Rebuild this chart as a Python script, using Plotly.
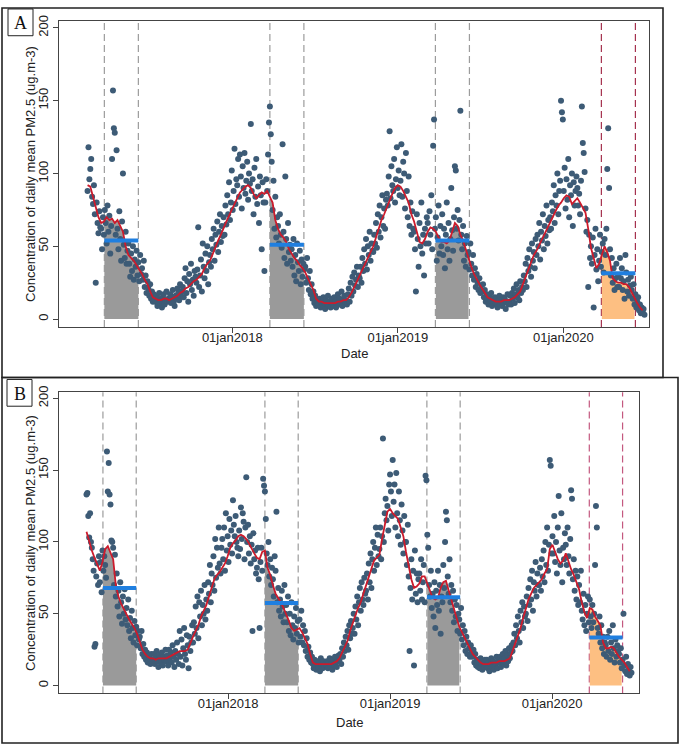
import pandas as pd
import plotly.graph_objects as go

# ---------------- data ----------------
start_date = "2017-02-16"      # first observation
point_step = "2D"              # one scatter value every second day (15 values per row ~ 30 days)
line_step = "6D"               # smoothed (red) line: one value every 6 days (5 values per row)

period_start = ["2017-03-25", "2018-03-25", "2019-03-25", "2020-03-25"]
period_end = ["2017-06-08", "2018-06-08", "2019-06-08", "2020-06-08"]
year_ticks = ["2018-01-01", "2019-01-01", "2020-01-01"]
year_tick_labels = ["01jan2018", "01jan2019", "01jan2020"]
y_ticks = [0, 50, 100, 150, 200]
panel_labels = ["A", "B"]
y_title = "Concentration of daily mean PM2.5 (ug.m-3)"
x_title = "Date"

# Panel A: daily PM2.5 (every 2nd day)
pm_a_2017 = [
    88, 118, 96, 103, 110, 84, 79, 92, 72, 25, 80, 66, 59, 74, 63,
    62, 48, 70, 58, 75, 66, 52, 78, 60, 71, 45, 64, 110, 157, 131,
    128, 58, 116, 62, 48, 74, 55, 40, 67, 100, 51, 42, 60, 38, 47,
    52, 38, 29, 45, 33, 50, 27, 41, 36, 47, 30, 39, 26, 44, 31,
    35, 27, 40, 22, 30, 18, 26, 21, 16, 24, 14, 19, 12, 17, 13,
    12, 16, 9, 14, 18, 11, 13, 8, 15, 17, 10, 13, 19, 12, 14,
    13, 17, 11, 15, 20, 12, 9, 16, 14, 21, 18, 13, 24, 16, 19,
    22, 15, 28, 35, 18, 26, 12, 31, 24, 38, 20, 27, 16, 33, 29,
    25, 34, 63, 22, 30, 41, 19, 52, 36, 28, 45, 33, 50, 24, 39,
    44, 36, 55, 48, 62, 40, 58, 51, 67, 46, 60, 72, 53, 64, 57,
    70, 58, 78, 65, 85, 72, 94, 68, 80, 102, 75, 88, 117, 79, 96,
]
pm_a_2018 = [
    92, 110, 84, 113, 98, 76, 105, 90, 114, 86, 95, 108, 82, 100, 93,
    134, 88, 96, 72, 104, 84, 110, 79, 91, 66, 98, 85, 48, 94, 80,
    33, 80, 96, 88, 113, 135, 146, 127, 108, 75, 95, 62, 84, 56, 70,
    64, 52, 72, 58, 49, 120, 60, 42, 98, 55, 38, 66, 46, 51, 40,
    48, 36, 55, 30, 44, 26, 52, 39, 33, 47, 24, 41, 29, 38, 34,
    36, 25, 42, 28, 20, 33, 17, 24, 14, 19, 11, 16, 9, 13, 10,
    10, 14, 8, 12, 9, 15, 11, 7, 13, 10, 16, 9, 12, 8, 14,
    11, 9, 15, 12, 8, 13, 17, 10, 14, 11, 19, 9, 13, 16, 12,
    13, 10, 17, 21, 12, 25, 16, 29, 19, 32, 23, 27, 36, 22, 30,
    28, 36, 25, 42, 33, 48, 38, 55, 34, 50, 44, 60, 40, 52, 47,
    46, 58, 52, 66, 49, 72, 60, 78, 56, 70, 85, 64, 76, 62, 82,
    86, 78, 98, 129, 83, 105, 92, 88, 110, 80, 96, 118, 90, 102, 85,
]
pm_a_2019 = [
    95, 120, 84, 108, 100, 76, 114, 88, 70, 98, 64, 80, 58, 74, 62,
    60, 48, 19, 72, 55, 36, 66, 50, 80, 45, 58, 30, 62, 52, 70,
    66, 52, 74, 58, 85, 48, 119, 137, 62, 70, 40, 56, 78, 45, 64,
    50, 72, 44, 62, 35, 58, 80, 48, 66, 40, 55, 90, 61, 47, 70,
    105, 102, 62, 75, 54, 68, 143, 58, 48, 64, 40, 52, 36, 57, 44,
    46, 34, 52, 38, 30, 44, 27, 35, 22, 31, 25, 20, 28, 18, 23,
    19, 24, 15, 20, 12, 17, 14, 10, 16, 13, 18, 9, 14, 11, 15,
    11, 14, 8, 13, 16, 10, 12, 9, 15, 11, 14, 7, 12, 17, 10,
    12, 16, 10, 18, 14, 21, 11, 17, 24, 15, 20, 13, 26, 18, 22,
    20, 30, 26, 38, 22, 42, 33, 48, 36, 29, 52, 40, 46, 35, 55,
    44, 58, 50, 66, 41, 60, 54, 72, 48, 64, 57, 78, 52, 68, 61,
    70, 62, 80, 74, 92, 66, 85, 78, 100, 72, 88, 95, 150, 142, 137,
]
pm_a_2020 = [
    88, 104, 76, 96, 82, 110, 70, 92, 85, 100, 64, 94, 78, 88, 98,
    90, 78, 86, 72, 95, 146, 121, 114, 101, 76, 60, 68, 22, 58, 42,
    50, 38, 56, 8, 44, 62, 34, 48, 26, 40, 58, 36, 46, 52, 32,
    55, 44, 62, 103, 131, 90, 48, 30, 42, 25, 35, 20, 28, 38, 22,
    30, 22, 42, 28, 35, 20, 26, 14, 44, 32, 19, 27, 16, 23, 29,
    20, 14, 24, 10, 17, 8, 12, 15, 6, 10, 4, 8, 5, 7, 3,
]

# Panel A: smoothed red line (every 6 days)
red_a_2017 = [
    92, 91, 84, 76, 70, 66, 67, 70, 68, 69, 66, 68, 64, 60, 50,
    44, 42, 40, 37, 34, 31, 27, 24, 19, 15, 14, 13, 13, 14, 14,
    13, 14, 15, 16, 18, 19, 21, 22, 24, 26, 27, 29, 31, 35, 38,
    40, 45, 50, 54, 58, 63, 67, 71, 75, 79,
]
red_a_2018 = [
    83, 87, 89, 91, 92, 90, 86, 83, 85, 87, 86, 88, 84, 80, 68,
    62, 58, 56, 53, 48, 45, 42, 40, 37, 35, 32, 28, 24, 20, 14,
    12, 12, 11, 11, 11, 11, 11, 12, 12, 13, 13, 15, 18, 22, 26,
    30, 33, 37, 41, 45, 50, 56, 62, 68, 72, 77, 82, 86, 90, 92,
]
red_a_2019 = [
    91, 88, 84, 80, 72, 67, 60, 53, 52, 55, 60, 63, 62, 60, 56,
    53, 53, 52, 54, 60, 66, 64, 58, 54, 48, 41, 36, 31, 27, 24,
    21, 18, 15, 14, 13, 12, 12, 12, 13, 13, 13, 14, 15, 17, 19,
    24, 29, 35, 40, 44, 47, 51, 55, 59, 62, 67, 71, 75, 78, 80,
]
red_a_2020 = [
    83, 85, 84, 79, 81, 83, 80, 76, 73, 62, 49, 42, 35, 38, 44,
    50, 46, 40, 28, 26, 25, 25, 24, 24, 22, 18, 15, 11, 8, 6,
]

# Panel B: daily PM2.5 (every 2nd day)
pm_b_2017 = [
    133, 134, 118, 103, 120, 100, 96, 88, 80, 27, 29, 76, 85, 70, 90,
    72, 86, 65, 94, 80, 90, 84, 75, 163, 135, 155, 133, 126, 101, 100,
    96, 70, 91, 62, 78, 55, 66, 48, 72, 58, 43, 62, 50, 67, 46,
    54, 42, 60, 38, 47, 33, 52, 40, 30, 45, 35, 41, 28, 38, 32,
    34, 26, 38, 22, 29, 20, 25, 18, 23, 16, 21, 19, 15, 22, 17,
    18, 22, 15, 20, 24, 17, 13, 21, 19, 16, 23, 14, 20, 18, 25,
    17, 21, 14, 25, 19, 23, 16, 28, 20, 13, 24, 18, 30, 22, 15,
    38, 20, 32, 14, 26, 40, 22, 18, 35, 28, 12, 34, 24, 30, 42,
    30, 44, 36, 55, 40, 62, 33, 58, 48, 66, 42, 56, 50, 70, 46,
    60, 52, 72, 64, 84, 58, 78, 70, 90, 66, 102, 75, 96, 82, 110,
    85, 78, 96, 102, 88, 110, 80, 120, 94, 104, 86, 116, 98, 108, 92,
]
pm_b_2018 = [
    129, 112, 104, 118, 100, 96, 90, 108, 95, 124, 102, 120, 114, 88, 110,
    145, 100, 112, 92, 104, 85, 98, 38, 106, 88, 94, 78, 82, 96, 74,
    40, 86, 96, 80, 144, 139, 135, 116, 92, 84, 100, 76, 88, 70, 82,
    74, 62, 90, 80, 121, 58, 68, 52, 60, 48, 66, 55, 44, 70, 50,
    56, 44, 62, 38, 50, 35, 58, 42, 32, 48, 40, 54, 36, 45, 30,
    46, 34, 52, 30, 42, 28, 38, 24, 33, 20, 27, 18, 23, 16, 20,
    15, 12, 18, 14, 11, 17, 13, 16, 10, 19, 14, 12, 17, 13, 15,
    14, 17, 12, 16, 19, 13, 15, 11, 18, 14, 20, 16, 13, 17, 21,
    18, 22, 15, 26, 20, 30, 24, 34, 28, 38, 25, 42, 33, 45, 36,
    40, 50, 36, 55, 46, 62, 42, 58, 68, 52, 72, 60, 56, 75, 64,
    66, 78, 60, 85, 72, 92, 68, 88, 100, 80, 96, 110, 84, 105, 90,
    95, 110, 88, 104, 172, 100, 120, 130, 115, 125, 108, 140, 147, 135, 118,
]
pm_b_2019 = [
    157, 128, 140, 110, 148, 120, 104, 135, 115, 98, 126, 108, 92, 118, 100,
    100, 84, 112, 76, 24, 68, 88, 60, 80, 14, 94, 64, 78, 58, 74,
    78, 66, 88, 60, 72, 84, 58, 146, 143, 105, 96, 70, 62, 80, 54,
    64, 48, 72, 40, 66, 56, 80, 52, 70, 36, 62, 58, 84, 68, 100,
    121, 115, 76, 64, 88, 58, 70, 52, 66, 44, 60, 48, 56, 38, 50,
    46, 36, 54, 32, 42, 28, 38, 24, 34, 22, 30, 26, 20, 28, 23,
    20, 25, 16, 22, 14, 18, 13, 17, 12, 19, 15, 11, 16, 13, 18,
    14, 18, 12, 16, 10, 15, 19, 13, 17, 11, 16, 14, 20, 12, 18,
    16, 20, 13, 18, 22, 15, 19, 24, 14, 21, 17, 26, 19, 23, 28,
    24, 30, 36, 28, 42, 33, 48, 38, 30, 52, 44, 58, 40, 55, 48,
    50, 62, 45, 68, 56, 74, 60, 80, 52, 72, 66, 86, 62, 78, 70,
    70, 82, 66, 88, 76, 94, 72, 100, 84, 110, 80, 98, 157, 153, 92,
]
pm_b_2020 = [
    104, 92, 118, 86, 100, 78, 110, 132, 94, 84, 120, 72, 96, 88, 106,
    98, 84, 110, 90, 78, 102, 136, 130, 74, 88, 66, 80, 60, 76, 56,
    70, 58, 80, 52, 46, 64, 42, 56, 38, 50, 62, 44, 60, 48, 40,
    56, 44, 50, 84, 125, 110, 40, 36, 48, 30, 42, 26, 34, 22, 30,
    28, 20, 34, 24, 38, 18, 30, 22, 42, 26, 16, 32, 20, 28, 24,
    22, 16, 26, 12, 18, 50, 14, 10, 20, 8, 15, 11, 7, 13, 9,
]

# Panel B: smoothed red line (every 6 days)
red_b_2017 = [
    107, 100, 94, 89, 84, 80, 86, 95, 97, 92, 88, 70, 62, 57, 53,
    50, 46, 43, 40, 36, 30, 25, 22, 20, 19, 19, 18, 19, 19, 19,
    19, 20, 21, 22, 23, 24, 24, 24, 25, 30, 34, 38, 42, 48, 52,
    56, 62, 68, 74, 77, 79, 82, 85, 90, 96,
]
red_b_2018 = [
    99, 101, 104, 105, 104, 102, 99, 95, 92, 89, 88, 93, 94, 82, 77,
    70, 64, 61, 58, 54, 50, 45, 40, 38, 39, 40, 37, 33, 29, 22,
    16, 15, 15, 15, 15, 15, 15, 15, 16, 17, 19, 23, 27, 31, 38,
    44, 49, 54, 58, 64, 70, 76, 82, 87, 89, 91, 102, 112, 121, 123,
]
red_b_2019 = [
    120, 118, 116, 110, 104, 93, 84, 74, 68, 69, 71, 76, 76, 71, 66,
    61, 60, 61, 68, 72, 73, 66, 60, 54, 47, 41, 37, 33, 29, 25,
    22, 20, 18, 16, 15, 15, 15, 16, 16, 16, 17, 17, 17, 18, 19,
    24, 29, 35, 40, 47, 53, 60, 64, 68, 70, 72, 74, 78, 81, 95,
]
red_b_2020 = [
    98, 93, 88, 85, 87, 92, 86, 81, 77, 72, 67, 58, 51, 47, 54,
    53, 48, 45, 42, 30, 26, 26, 27, 26, 23, 20, 18, 16, 13, 10,
]

# period means (blue bars)
mean_a = [54, 51, 54, 31.5]
mean_b = [68, 57.5, 61.5, 33.5]

# ---------------- styling ----------------
W, H = 681, 745
POINT_COLOR = "#3d5b76"
RED = "#cc1b2c"
BLUE = "#1f7fe0"
GREY_FILL = "#9a9a9a"
ORANGE_FILL = "#fdbf82"
DASH_GREY = "#9c9c9c"
FONT = "Liberation Sans, Arial, sans-serif"


def px(x):
    return x / W


def py(y):
    return 1 - y / H


panels = [
    dict(pm=[pm_a_2017, pm_a_2018, pm_a_2019, pm_a_2020],
         red=[red_a_2017, red_a_2018, red_a_2019, red_a_2020],
         means=mean_a, xa="x", ya="y",
         xdom=[px(59), px(649)], ydom=[py(323), py(14)],
         xrange=["2016-12-15", "2020-07-08"], yrange=[-5.4, 204.8],
         covid_dash="#a5324f", box=(2, 1, 663, 374), label_box=(8, 2, 33, 29),
         ytitle_y=168.5, xtitle=(354, 350)),
    dict(pm=[pm_b_2017, pm_b_2018, pm_b_2019, pm_b_2020],
         red=[red_b_2017, red_b_2018, red_b_2019, red_b_2020],
         means=mean_b, xa="x2", ya="y2",
         xdom=[px(59), px(639)], ydom=[py(693), py(389)],
         xrange=["2016-12-16", "2020-07-15"], yrange=[-5.5, 204.1],
         covid_dash="#c4587f", box=(2, 374, 678, 743), label_box=(7, 376, 32, 403),
         ytitle_y=541, xtitle=(349, 722)),
]

fig = go.Figure()
shapes = []
annotations = []

for pi, p in enumerate(panels):
    pm = sum(p["pm"], [])
    red = pd.Series(sum(p["red"], []), dtype=float)
    d_pm = pd.date_range(start_date, periods=len(pm), freq=point_step)
    d_red = pd.date_range(start_date, periods=len(red), freq=line_step)
    red.index = d_red
    half = pd.Timedelta(line_step) / 2

    # shaded areas under the smoothed curve
    for i, (s, e) in enumerate(zip(period_start, period_end)):
        s, e = pd.Timestamp(s), pd.Timestamp(e)
        seg = red[(red.index >= s - half) & (red.index <= e + half)]
        xs = [min(max(d, s), e) for d in seg.index]
        fig.add_trace(go.Scatter(
            x=xs, y=seg.values, mode="lines", line=dict(width=0),
            fill="tozeroy", fillcolor=ORANGE_FILL if i == 3 else GREY_FILL,
            xaxis=p["xa"], yaxis=p["ya"], hoverinfo="skip", showlegend=False))

    # daily points
    fig.add_trace(go.Scatter(
        x=d_pm, y=pm, mode="markers",
        marker=dict(size=6, color=POINT_COLOR, line=dict(width=0)),
        xaxis=p["xa"], yaxis=p["ya"], showlegend=False))

    # smoothed line
    fig.add_trace(go.Scatter(
        x=d_red, y=red.values, mode="lines", line=dict(color=RED, width=1.8),
        xaxis=p["xa"], yaxis=p["ya"], showlegend=False))

    # period means
    for s, e, m in zip(period_start, period_end, p["means"]):
        fig.add_trace(go.Scatter(
            x=[s, e], y=[m, m], mode="lines", line=dict(color=BLUE, width=4),
            xaxis=p["xa"], yaxis=p["ya"], showlegend=False))

    # dashed period boundaries
    for i, (s, e) in enumerate(zip(period_start, period_end)):
        col = p["covid_dash"] if i == 3 else DASH_GREY
        for d in (s, e):
            shapes.append(dict(type="line", xref=p["xa"], yref=p["ya"] + " domain",
                               x0=d, x1=d, y0=0, y1=1, layer="below",
                               line=dict(color=col, width=1.2, dash="7px,4px")))

    # axes
    axis_common = dict(showgrid=False, zeroline=False, showline=True, mirror=True,
                       linecolor="#444", linewidth=1, ticks="outside", ticklen=5,
                       tickcolor="#444", tickfont=dict(family=FONT, size=13, color="#222"))
    xkey = "xaxis" if p["xa"] == "x" else "xaxis2"
    ykey = "yaxis" if p["ya"] == "y" else "yaxis2"
    fig.update_layout(**{
        xkey: dict(domain=p["xdom"], range=p["xrange"], type="date",
                   tickvals=year_ticks, ticktext=year_tick_labels,
                   ticklabelstandoff=-7, anchor=p["ya"], **axis_common),
        ykey: dict(domain=p["ydom"], range=p["yrange"], tickvals=y_ticks,
                   tickangle=-90, anchor=p["xa"], **axis_common),
    })

    # axis titles
    annotations.append(dict(text=y_title, xref="paper", yref="paper",
                            x=px(31), y=py(p["ytitle_y"]), textangle=-90,
                            showarrow=False, xanchor="center", yanchor="middle",
                            font=dict(family=FONT, size=13, color="#222")))
    annotations.append(dict(text=x_title, xref="paper", yref="paper",
                            x=px(p["xtitle"][0]), y=py(p["xtitle"][1]),
                            showarrow=False, xanchor="center", yanchor="middle",
                            font=dict(family=FONT, size=13, color="#222")))

    # panel frame and label box
    x0, y0, x1, y1 = p["box"]
    shapes.append(dict(type="rect", xref="paper", yref="paper",
                       x0=px(x0), x1=px(x1), y0=py(y1), y1=py(y0),
                       line=dict(color="#222", width=1.6)))
    lx0, ly0, lx1, ly1 = p["label_box"]
    shapes.append(dict(type="rect", xref="paper", yref="paper",
                       x0=px(lx0), x1=px(lx1), y0=py(ly1), y1=py(ly0),
                       line=dict(color="#222", width=1)))
    annotations.append(dict(text=panel_labels[pi], xref="paper", yref="paper",
                            x=px((lx0 + lx1) / 2), y=py((ly0 + ly1) / 2 + 1),
                            showarrow=False, xanchor="center", yanchor="middle",
                            font=dict(family="Liberation Serif, Times New Roman, serif",
                                      size=18, color="#111")))

fig.update_layout(width=W, height=H, margin=dict(l=0, r=0, t=0, b=0),
                  paper_bgcolor="white", plot_bgcolor="white",
                  showlegend=False, shapes=shapes, annotations=annotations)

fig.write_html(
    "out.html",
    config={"displayModeBar": False},
    post_script="document.body.style.margin='0';document.body.style.overflow='hidden';",
)
